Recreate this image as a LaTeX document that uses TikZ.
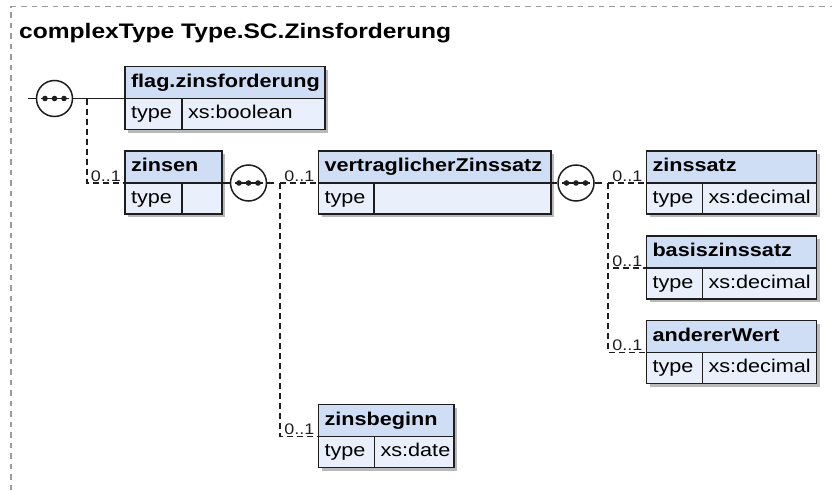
\documentclass[tikz,border=0pt]{standalone}
\usepackage{fontspec}
\setmainfont{Liberation Sans}[FakeStretch=1.17]
\definecolor{hdrfill}{RGB}{208,222,245}
\definecolor{cellfill}{RGB}{233,240,251}
\definecolor{boxline}{RGB}{30,30,30}
\definecolor{shadowc}{RGB}{185,185,185}
\definecolor{framec}{RGB}{155,155,155}
\tikzset{
  hdr/.style={draw=boxline, fill=hdrfill, line width=1.5pt, outer sep=0pt,
    font=\bfseries\fontsize{18.5}{20}\selectfont, inner xsep=6pt, inner ysep=0pt,
    minimum height=32pt, text height=13pt, text depth=4pt, anchor=north west, align=left},
  cell/.style={draw=boxline, fill=cellfill, line width=1.5pt, outer sep=0pt,
    font=\fontsize{18.5}{20}\selectfont, inner xsep=6pt, inner ysep=0pt,
    minimum height=31pt, text height=13pt, text depth=4pt, anchor=north west, align=left},
  seqc/.style={circle, draw=boxline, fill=white, line width=1.5pt, minimum size=36pt, inner sep=0pt},
  conn/.style={draw=boxline, line width=1.5pt},
  opt/.style={conn, dash pattern=on 6pt off 4pt},
  lbl/.style={font=\fontsize{15.3}{17}\selectfont, text=boxline, anchor=base east, inner sep=0pt, xshift=-4pt, yshift=2pt},
  framel/.style={draw=framec, line width=1.3pt, dash pattern=on 5.5pt off 5pt},
}
\newcommand{\xelem}[7]{%
  \pgfmathsetmacro\xwa{#4-12}%
  \pgfmathsetmacro\xwb{#5-12}%
  \pgfmathsetmacro\xwc{#4-#5-12}%
  \fill[shadowc] (#2+3,#3+3) rectangle (#2+#4+3,#3+63+3);
  \node[hdr, text width=\xwa pt] (#1) at (#2,#3) {#6};
  \node[cell, text width=\xwb pt] (#1t) at (#1.south west) {type};
  \node[cell, text width=\xwc pt] (#1v) at (#1t.north east) {#7};
}
\newcommand{\xdots}[1]{%
  \draw[conn] ([xshift=-14pt]#1.center) -- ([xshift=14pt]#1.center);
  \fill[boxline] ([xshift=-9.5pt]#1.center) circle (2.8pt);
  \fill[boxline] (#1.center) circle (2.8pt);
  \fill[boxline] ([xshift=9.5pt]#1.center) circle (2.8pt);
}
\begin{document}
\begin{tikzpicture}[x=1pt, y=-1pt]
\useasboundingbox (0,0) rectangle (832,490);
% frame
\coordinate (fa) at (11,6.5);
\coordinate (fb) at (832,6.5);
\coordinate (fc) at (11,490);
\draw[framel] (fc) -- (fa) -- (fb);
\node[anchor=base west, inner sep=0pt, font=\bfseries\fontsize{21}{23}\selectfont] (title) at (19,38) {complexType Type.SC.Zinsforderung};

% elements
\xelem{flag}{125}{66.5}{200}{57}{flag.zinsforderung}{xs:boolean}
\xelem{zinsen}{125}{151}{97}{57}{zinsen}{}
\xelem{vertr}{318.5}{151}{232.5}{55.5}{vertraglicherZinssatz}{}
\xelem{zsatz}{646.5}{151}{170}{56}{zinssatz}{xs:decimal}
\xelem{basis}{646.5}{236}{170}{56}{basiszinssatz}{xs:decimal}
\xelem{anderer}{646.5}{320.5}{170}{56}{andererWert}{xs:decimal}
\xelem{beginn}{318.5}{404.5}{135.5}{56}{zinsbeginn}{xs:date}

% sequence compositors
\node[seqc] (c1) at (54.5,98.5) {};
\node[seqc] (c2) at (248.5,183) {};
\node[seqc] (c3) at (576,183) {};

% connectors
\coordinate (start) at (28,98.5);
\coordinate (j1) at (87,98.5);
\coordinate (j2) at (280,183);
\coordinate (j3) at (608,183);
\draw[conn] (start) -- (c1.west);
\draw[conn] (c1.east) -- (flag.south west);
\draw[opt] (j1) |- (zinsen.south west);
\draw[conn] (zinsen.south east) -- (c2.west);
\draw[conn] (c2.east) -- ++(7,0);
\draw[opt] (j2) -- (vertr.south west);
\draw[opt] (j2) |- (beginn.south west);
\draw[conn] (vertr.south east) -- (c3.west);
\draw[conn] (c3.east) -- ++(7,0);
\draw[opt] (j3) -- (zsatz.south west);
\draw[opt] (j3) |- (basis.south west);
\draw[opt] (j3) |- (anderer.south west);

\xdots{c1}
\xdots{c2}
\xdots{c3}

% labels
\node[lbl] (l1) at (zinsen.south west) {0..1};
\node[lbl] (l2) at (vertr.south west) {0..1};
\node[lbl] (l3) at (beginn.south west) {0..1};
\node[lbl] (l4) at (zsatz.south west) {0..1};
\node[lbl] (l5) at (basis.south west) {0..1};
\node[lbl] (l6) at (anderer.south west) {0..1};
\end{tikzpicture}
\end{document}
